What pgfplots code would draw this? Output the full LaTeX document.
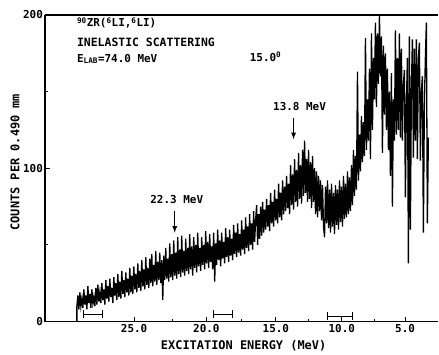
\documentclass[border=0pt]{standalone}
\usepackage{pgfplots}
\pgfplotsset{compat=1.18}
\usepackage{fontspec}
\setmainfont{DejaVu Sans Mono}
\begin{document}
\begin{tikzpicture}
\begin{axis}[
  name=ax,
  scale only axis,
  width=394bp, height=307bp,
  xmin=45, xmax=439, ymin=0, ymax=200,
  axis x line=bottom, axis y line=left,
  axis line style={-, line width=1.3bp, black},
  tick align=inside,
  xtick={134.3,206.7,276.3,342.3,405.7},
  xticklabels={25.0,20.0,15.0,10.0,5.0},
  minor xtick={173,242,309,375},
  ytick={0,100,200},
  yticklabels={0,100,200},
  minor ytick={50,150},
  major tick length=5bp, minor tick length=3bp,
  tick style={line width=1bp, black},
  ticklabel style={font=\fontsize{11}{12}\selectfont\bfseries},
  xticklabel style={yshift=1bp},
  yticklabel style={xshift=1.5bp},
  xlabel={EXCITATION ENERGY (MeV)},
  ylabel={COUNTS PER 0.490 mm},
  label style={font=\fontsize{12}{13}\selectfont\bfseries},
  xlabel style={at={(axis description cs:0.505,-0.078)}, anchor=center},
  ylabel style={at={(axis description cs:-0.076,0.52)}, anchor=center, rotate=0},
  clip=true,
]
\addplot[black, line width=1.3bp] coordinates {
(77,0)(77,10)(78,17)(79,8)(80,19)(81,10)(82,15)(83,9)(84,21)(85,11)(86,17)(87,8)(88,23)(89,12)(90,18)(91,9)(92,21)(93,12)(94,16)(95,10)(96,22)(97,11)(98,24)(99,13)(100,19)
(101,12)(102,25)(103,14)(104,21)(105,11)(106,27)(107,15)(108,23)(109,13)(110,28)(111,16)(112,22)(113,12)(114,29)(115,17)(116,25)(117,14)(118,31)(119,16)(120,26)(121,15)(122,33)(123,18)(124,27)(125,16)(126,32)(127,19)(128,28)(129,17)(130,35)
(131,19)(132,30)(133,18)(134,36)(135,21)(136,31)(137,19)(138,38)(139,22)(140,33)(141,20)(142,40)(143,23)(144,34)(145,21)(146,42)(147,24)(148,35)(149,22)(150,41)(151,25)(152,44)(153,23)(154,37)(155,26)(156,46)(157,24)(158,39)(159,27)(160,45)(161,25)(162,40)(163,14)(164,43)(165,27)
(166,48)(167,28)(168,41)(169,26)(170,51)(171,29)(172,44)(173,27)(174,53)(175,30)(176,45)(177,28)(178,55)(179,31)(180,47)(181,29)(182,56)(183,32)(184,46)(185,30)(186,54)(187,33)(188,48)(189,31)(190,57)(191,34)(192,49)(193,30)(194,55)(195,35)(196,50)(197,32)(198,58)(199,36)(200,48)
(201,33)(202,55)(203,37)(204,50)(205,34)(206,59)(207,38)(208,52)(209,35)(210,57)(211,39)(212,49)(213,34)(214,58)(215,26)(216,51)(217,37)(218,60)(219,40)(220,53)(221,36)(222,58)(223,41)(224,52)(225,38)(226,61)(227,42)(228,55)(229,39)(230,60)(231,43)(232,54)(233,40)(234,63)(235,44)
(236,58)(237,42)(238,64)(239,45)(240,57)(241,43)(242,66)(243,47)(244,60)(245,44)(246,68)(247,48)(248,62)(249,46)(250,70)(251,50)(252,64)(253,47)(254,72)(255,52)(256,66)(257,76)(258,50)(259,70)(260,54)(261,75)(262,56)
(263,78)(264,58)(265,73)(266,60)(267,80)(268,62)(269,76)(270,59)(271,84)(272,64)(273,78)(274,62)(275,86)(276,66)(277,80)(278,64)(279,90)(280,68)(281,84)(282,66)(283,92)(284,70)(285,88)
(286,72)(287,95)(288,74)(289,90)(290,70)(291,102)(292,76)(293,96)(294,73)(295,106)(296,78)(297,99)(298,75)(299,110)(300,80)(301,102)(302,77)(303,112)(304,82)(305,118)(306,84)(307,106)(308,78)(309,112)(310,80)(311,104)(312,74)(313,108)(314,78)(315,100)(316,70)(317,98)(318,68)(319,95)(320,72)
(321,92)(322,66)(323,89)(324,62)(325,55)(326,88)(327,64)(328,92)(329,61)(330,86)(331,58)(332,90)(333,62)(334,84)(335,57)(336,89)(337,63)(338,86)(339,60)(340,92)(341,65)(342,88)(343,62)(344,95)(345,67)(346,90)(347,68)(348,98)(349,70)(350,94)
(351,72)(352,102)(353,76)(354,112)(355,82)(356,108)(357,86)(358,163)(359,92)(360,122)(361,98)(362,134)(363,104)(364,130)(365,108)(366,185)(367,112)(368,145)(369,118)(370,165)(371,106)(372,188)(373,125)(374,172)(375,145)(376,195)(377,140)(378,188)(379,155)(380,200)(381,160)(382,186)(383,110)(384,180)(385,135)(386,175)(387,125)(388,165)(389,112)(390,150)(391,95)(392,162)(393,75)(394,145)(395,118)(396,190)(397,122)(398,172)(399,125)(400,188)(401,120)(402,178)(403,118)(404,155)(405,164)(406,81)(407,142)(408,172)(409,38)(410,186)(411,60)(412,152)(413,184)(414,107)(415,178)(416,118)(417,184)(418,106)(419,172)(420,182)(421,105)(422,150)(423,160)(424,58)(425,142)(426,172)(427,195)(428,64)(429,120)
};
% annotations
\draw[line width=1.3bp] (rel axis cs:0,1) -- (rel axis cs:1,1);
\node[anchor=west, font=\fontsize{11}{12}\selectfont\bfseries, inner sep=0pt] at (axis cs:77,194.8) {\textsuperscript{90}ZR(\textsuperscript{6}LI,\textsuperscript{6}LI)};
\node[anchor=west, font=\fontsize{11.5}{12}\selectfont\bfseries, inner sep=0pt] at (axis cs:77,182.4) {INELASTIC SCATTERING};
\node[anchor=west, font=\fontsize{11}{12}\selectfont\bfseries, inner sep=0pt] at (axis cs:77,171.3) {E\textsubscript{LAB}=74.0 MeV};
\node[anchor=west, font=\fontsize{11}{12}\selectfont\bfseries, inner sep=0pt] at (axis cs:250,172.6) {15.0\textsuperscript{0}};
\node[font=\fontsize{11}{12}\selectfont\bfseries, inner sep=0pt] at (axis cs:177,79.5) {22.3 MeV};
\draw[-latex, line width=1.2bp] (axis cs:175,72) -- (axis cs:175,58);
\node[font=\fontsize{11}{12}\selectfont\bfseries, inner sep=0pt] at (axis cs:300,140) {13.8 MeV};
\draw[-latex, line width=1.2bp] (axis cs:294,133) -- (axis cs:294,119);
\draw[|-|, line width=1bp] (axis cs:83,4.6) -- (axis cs:103,4.6);
\draw[|-|, line width=1bp] (axis cs:213,4.6) -- (axis cs:233,4.6);
\draw[|-|, line width=1bp] (axis cs:327,3.3) -- (axis cs:354,3.3);
\end{axis}
\path[use as bounding box] ([xshift=-45bp,yshift=-31bp]ax.south west) rectangle ([yshift=15bp]ax.north east);
\end{tikzpicture}
\end{document}
